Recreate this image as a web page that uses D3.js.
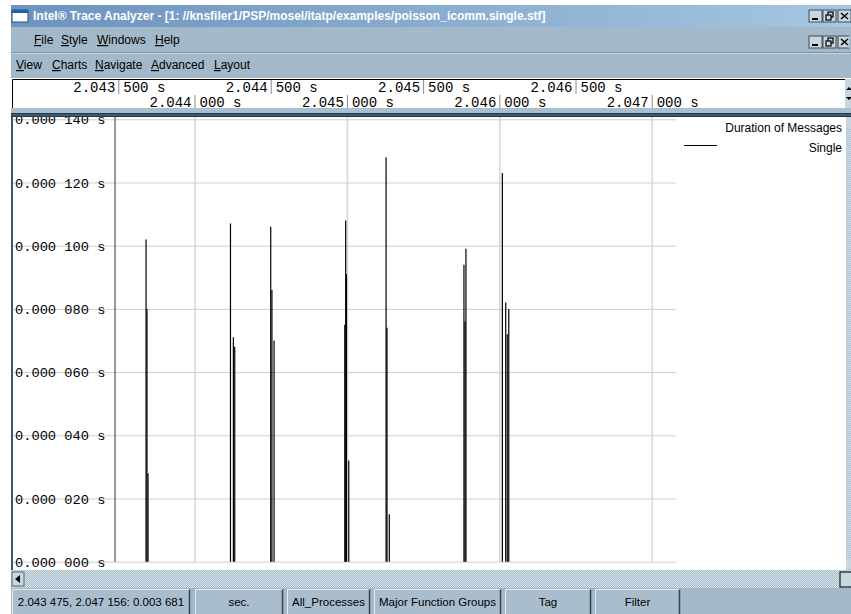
<!DOCTYPE html>
<html><head><meta charset="utf-8">
<script src="https://cdn.jsdelivr.net/npm/d3@7"></script>
<style>
html,body{margin:0;padding:0;background:#fff;overflow:hidden}
svg{display:block}
</style></head><body>
<svg id="c" width="851" height="614"></svg>
<script>
// ---------- data ----------
const titleText = "Intel\u00AE Trace Analyzer - [1: //knsfiler1/PSP/mosel/itatp/examples/poisson_icomm.single.stf]";
const menuMain = ["File", "Style", "Windows", "Help"];
const menuChart = ["View", "Charts", "Navigate", "Advanced", "Layout"];
const timeDomain = [2.043475, 2.047156];
const rulerTopTicks = [2.0435, 2.0445, 2.0455, 2.0465];
const rulerBottomTicks = [2.044, 2.045, 2.046, 2.047];
const gridTimes = [2.044, 2.045, 2.046, 2.047];
const durationTicks = [0, 0.00002, 0.00004, 0.00006, 0.00008, 0.0001, 0.00012, 0.00014];
const msgTimes = [
  2.043682, 2.043688, 2.043695,
  2.044236, 2.044255, 2.044264,
  2.044500, 2.044508, 2.044522,
  2.044986, 2.044992, 2.044997, 2.045012,
  2.045257, 2.045263, 2.045278,
  2.045768, 2.045775, 2.045781,
  2.046020, 2.046042, 2.046052, 2.046062
];
const msgDurations = [
  0.000102, 0.000080, 0.000028,
  0.000107, 0.000071, 0.000068,
  0.000106, 0.000086, 0.000070,
  0.000075, 0.000108, 0.000091, 0.000032,
  0.000128, 0.000074, 0.000015,
  0.000094, 0.000076, 0.000099,
  0.000123, 0.000082, 0.000072, 0.000080
];
const legendTitle = "Duration of Messages";
const seriesName = "Single";
const statusLabels = ["2.043 475, 2.047 156: 0.003 681", "sec.", "All_Processes", "Major Function Groups", "Tag", "Filter"];

// ---------- layout ----------
const W = 851, H = 614;
const barBg = "#a3b8c8";
const svg = d3.select("#c");
const defs = svg.append("defs");

const grad = defs.append("linearGradient").attr("id", "tb").attr("x1", 0).attr("x2", 1);
grad.append("stop").attr("offset", 0).attr("stop-color", "#6b93c0");
grad.append("stop").attr("offset", 1).attr("stop-color", "#a6c6e0");

const pat = defs.append("pattern").attr("id", "dith").attr("width", 2).attr("height", 2).attr("patternUnits", "userSpaceOnUse");
pat.append("rect").attr("width", 2).attr("height", 2).attr("fill", "#a9bfce");
pat.append("rect").attr("width", 1).attr("height", 1).attr("fill", "#d4e0e8");
pat.append("rect").attr("x", 1).attr("y", 1).attr("width", 1).attr("height", 1).attr("fill", "#d4e0e8");

const sans = "'Liberation Sans', Arial, sans-serif";
const mono = "'Liberation Mono', 'Courier New', monospace";

// title bar
svg.append("rect").attr("x", 11).attr("y", 5).attr("width", W - 11).attr("height", 22).attr("fill", "url(#tb)");
svg.append("rect").attr("x", 12).attr("y", 10).attr("width", 16).attr("height", 12).attr("fill", "#fff").attr("stroke", "#2a4f80");
svg.append("rect").attr("x", 12).attr("y", 10).attr("width", 16).attr("height", 3).attr("fill", "#1f5fb0");
svg.append("text").attr("x", 33).attr("y", 20).attr("fill", "#fff").attr("font-family", sans)
  .attr("font-weight", "bold").attr("font-size", 12).text(titleText);

function winButtons(y, n) {
  const xs = [809, 823, 838].slice(0, n);
  xs.forEach((x, i) => {
    const g = svg.append("g").attr("transform", `translate(${x},${y})`);
    g.append("rect").attr("width", 13).attr("height", 12).attr("fill", "#c8d6e0").attr("stroke", "#203040").attr("stroke-width", 0.8);
    if (i === 0) g.append("rect").attr("x", 3).attr("y", 8).attr("width", 6).attr("height", 2).attr("fill", "#000");
    if (i === 1) {
      g.append("rect").attr("x", 5).attr("y", 2).attr("width", 5).attr("height", 5).attr("fill", "none").attr("stroke", "#000").attr("stroke-width", 1.2);
      g.append("rect").attr("x", 3).attr("y", 5).attr("width", 5).attr("height", 5).attr("fill", "#c8d6e0").attr("stroke", "#000").attr("stroke-width", 1.2);
    }
    if (i === 2) g.append("path").attr("d", "M3,3L10,9M10,3L3,9").attr("stroke", "#000").attr("stroke-width", 1.5);
  });
}
winButtons(10, 3);

// menu bars
svg.append("rect").attr("x", 11).attr("y", 27).attr("width", W - 11).attr("height", 51).attr("fill", barBg);
svg.append("line").attr("x1", 11).attr("x2", W).attr("y1", 52.5).attr("y2", 52.5).attr("stroke", "#7f95a6");
svg.append("line").attr("x1", 11).attr("x2", W).attr("y1", 53.5).attr("y2", 53.5).attr("stroke", "#c6d4de");
winButtons(36, 3);
svg.append("rect").attr("x", 849).attr("y", 30).attr("width", 2).attr("height", 20).attr("fill", barBg);

function menu(items, xs, y) {
  items.forEach((t, i) => {
    const tx = svg.append("text").attr("x", xs[i]).attr("y", y).attr("font-family", sans).attr("font-size", 12).attr("fill", "#000");
    tx.append("tspan").attr("text-decoration", "underline").text(t[0]);
    tx.append("tspan").text(t.slice(1));
  });
}
menu(menuMain, [34, 61, 97, 155], 44);
menu(menuChart, [16, 52, 95, 151, 214], 69);

// x scale
const x = d3.scaleLinear().domain(timeDomain).range([114.5, 675.5]);
const y = d3.scaleLinear().domain([0, 0.00014]).range([561.7, 119.3]);

// ruler
svg.append("rect").attr("x", 12).attr("y", 79).attr("width", 833).attr("height", 29).attr("fill", "#fff");
svg.append("path").attr("d", "M12.5,108V79.5H845").attr("fill", "none").attr("stroke", "#000");
svg.append("rect").attr("x", 845).attr("y", 79).attr("width", 6).attr("height", 29).attr("fill", "#c8d6e0");
svg.append("path").attr("d", "M846,90l3,-3l3,3zM846,97l3,3l3,-3z").attr("fill", "#000");

const fmt6 = d3.format(".6f");
function splitLabel(v) {
  const s = fmt6(v);
  const i = s.indexOf(".") + 4;
  return [s.slice(0, i), s.slice(i) + " s"];
}
const rulerTop = svg.append("g").attr("transform", "translate(0,80)")
  .call(d3.axisBottom(x).tickValues(rulerTopTicks).tickSize(14).tickFormat(""));
const rulerBot = svg.append("g").attr("transform", "translate(0,95)")
  .call(d3.axisBottom(x).tickValues(rulerBottomTicks).tickSize(13).tickFormat(""));
[rulerTop, rulerBot].forEach(g => {
  g.select(".domain").remove();
  g.selectAll(".tick line").attr("stroke", "#8a8a8a");
});
function rulerLabels(ticks, base) {
  ticks.forEach(v => {
    const [a, b] = splitLabel(v);
    const px = x(v);
    svg.append("text").attr("x", px - 3).attr("y", base).attr("text-anchor", "end")
      .attr("font-family", mono).attr("font-size", 14).attr("fill", "#000").text(a);
    svg.append("text").attr("x", px + 5).attr("y", base)
      .attr("font-family", mono).attr("font-size", 14).attr("fill", "#000").text(b);
  });
}
rulerLabels(rulerTopTicks, 92);
rulerLabels(rulerBottomTicks, 107);

// band between ruler and plot
svg.append("rect").attr("x", 11).attr("y", 108).attr("width", W - 11).attr("height", 6).attr("fill", "#a9bfcf");
svg.append("rect").attr("x", 11).attr("y", 113).attr("width", W - 11).attr("height", 4).attr("fill", "#1e3a50");
svg.append("line").attr("x1", 11).attr("x2", W).attr("y1", 115).attr("y2", 115).attr("stroke", "#5d7f98");

// plot area
svg.append("rect").attr("x", 12).attr("y", 117).attr("width", 834).attr("height", 453).attr("fill", "#fff");
defs.append("clipPath").attr("id", "pc").append("rect").attr("x", 12).attr("y", 117).attr("width", 834).attr("height", 453);
const plot = svg.append("g").attr("clip-path", "url(#pc)");

// vertical grid
const xg = plot.append("g").attr("transform", "translate(0,117)")
  .call(d3.axisBottom(x).tickValues(gridTimes).tickSize(y(0) - 117).tickFormat(""));
xg.select(".domain").remove();
xg.selectAll(".tick line").attr("stroke", "#d8d8d8").attr("stroke-width", 1.6);

// horizontal grid + y labels
const yFmt = v => { const [a, b] = splitLabel(v); return a + " " + b; };
const yg = plot.append("g").attr("transform", "translate(676,0)")
  .call(d3.axisLeft(y).tickValues(durationTicks).tickSize(664).tickFormat(yFmt));
yg.select(".domain").remove();
yg.selectAll(".tick line").attr("stroke", "#cfcfcf");
yg.selectAll(".tick text").attr("x", 15 - 676).attr("text-anchor", "start")
  .attr("font-family", mono).attr("font-size", 13.7).attr("fill", "#000").attr("dy", "0.34em");

// y axis line
plot.append("line").attr("x1", 115).attr("x2", 115).attr("y1", 117).attr("y2", y(0)).attr("stroke", "#555").attr("stroke-width", 1.2);

// message bars
plot.append("g").selectAll("line").data(msgTimes).join("line")
  .attr("x1", d => x(d)).attr("x2", d => x(d))
  .attr("y1", y(0)).attr("y2", (d, i) => y(msgDurations[i]))
  .attr("stroke", "#000").attr("stroke-width", 1.2);

// left frame
svg.append("rect").attr("x", 11).attr("y", 117).attr("width", 2).attr("height", 453).attr("fill", "#2f5a78");

// legend
svg.append("text").attr("x", 842).attr("y", 132).attr("text-anchor", "end").attr("font-family", sans)
  .attr("font-size", 12).attr("fill", "#000").text(legendTitle);
svg.append("line").attr("x1", 684).attr("x2", 717).attr("y1", 145.5).attr("y2", 145.5).attr("stroke", "#000");
svg.append("text").attr("x", 842).attr("y", 152).attr("text-anchor", "end").attr("font-family", sans)
  .attr("font-size", 12).attr("fill", "#000").text(seriesName);

// right vertical scrollbar
svg.append("rect").attr("x", 846).attr("y", 117).attr("width", 5).attr("height", 453).attr("fill", "url(#dith)");
svg.append("rect").attr("x", 846).attr("y", 117).attr("width", 5).attr("height", 11).attr("fill", "#c8d6e0");
svg.append("rect").attr("x", 846).attr("y", 558).attr("width", 5).attr("height", 11).attr("fill", "#c8d6e0");

// horizontal scrollbar
svg.append("rect").attr("x", 11).attr("y", 570).attr("width", W - 11).attr("height", 18).attr("fill", "url(#dith)");
svg.append("rect").attr("x", 12).attr("y", 572).attr("width", 12).attr("height", 14).attr("fill", "#c8d6e0").attr("stroke", "#3a4c5a").attr("stroke-width", 0.8);
svg.append("path").attr("d", "M15,579l5,-4v8z").attr("fill", "#000");
svg.append("rect").attr("x", 840).attr("y", 572).attr("width", 12).attr("height", 15).attr("fill", "#c8d6e0").attr("stroke", "#1a1a1a").attr("stroke-width", 1.2);

// status bar
svg.append("rect").attr("x", 11).attr("y", 588).attr("width", W - 11).attr("height", 26).attr("fill", barBg);
const statusBoxes = [[12, 190], [195, 283], [287, 370], [374, 501], [505, 591], [595, 680]];
statusLabels.forEach((t, i) => {
  const [a, b] = statusBoxes[i];
  svg.append("rect").attr("x", a).attr("y", 589).attr("width", b - a).attr("height", 30).attr("fill", "#a9bdcc");
  svg.append("path").attr("d", `M${a + 0.5},614V589.5H${b - 0.5}`).attr("fill", "none").attr("stroke", "#e4ecf2");
  svg.append("path").attr("d", `M${b - 0.5},589.5V614`).attr("fill", "none").attr("stroke", "#34444f").attr("stroke-width", 1.5);
  svg.append("text").attr("x", (a + b) / 2).attr("y", 606).attr("text-anchor", "middle").attr("font-family", sans)
    .attr("font-size", 11.5).attr("fill", "#000").text(t);
});
</script>
</body></html>
